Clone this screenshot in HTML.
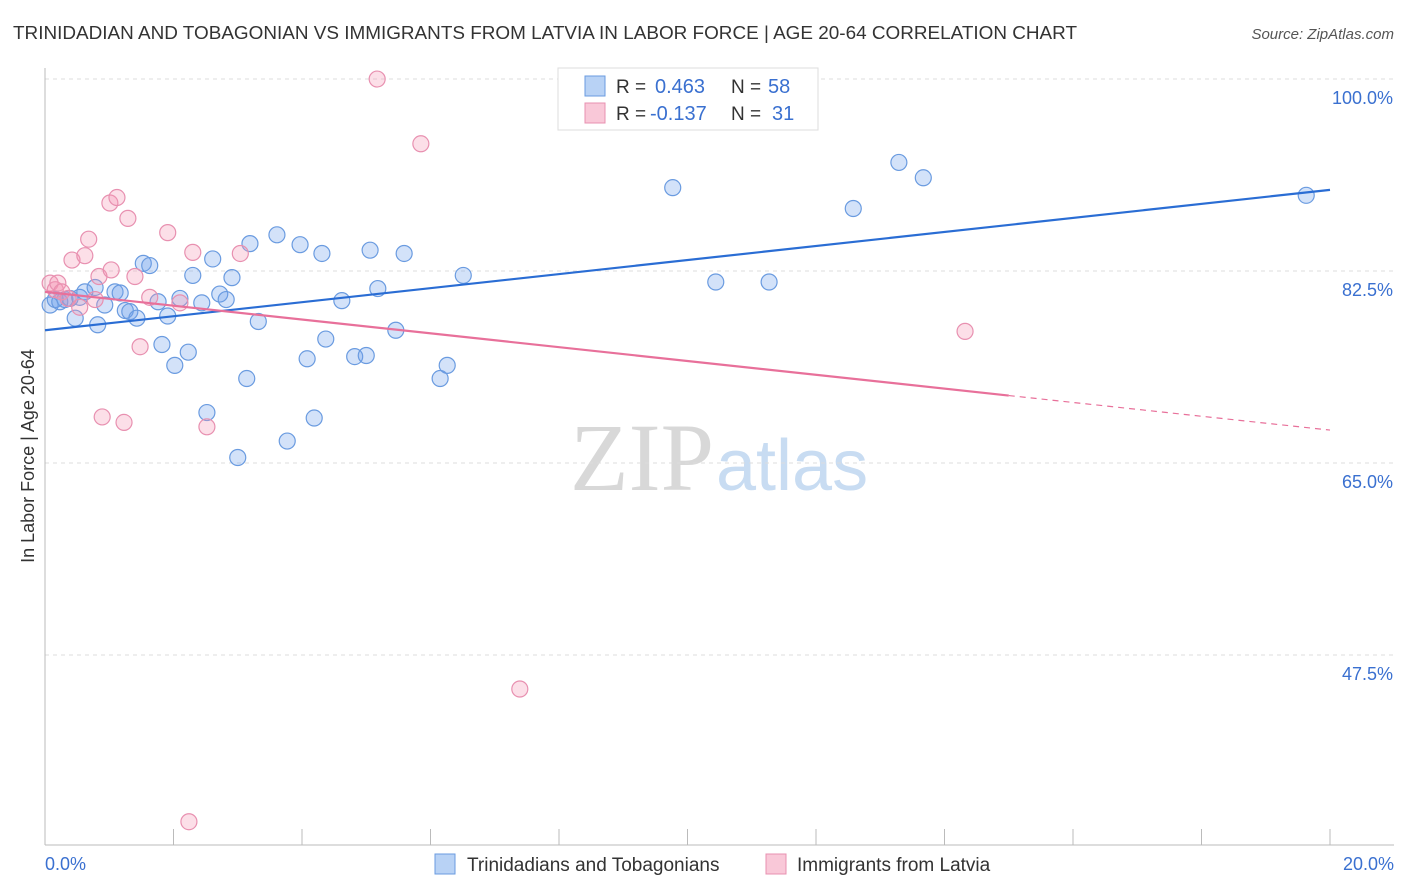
<!DOCTYPE html>
<html><head><meta charset="utf-8">
<style>
body{margin:0;background:#fff;font-family:"Liberation Sans",sans-serif;}
#wrap{position:relative;width:1406px;height:892px;overflow:hidden;}
</style></head>
<body>
<div id="wrap">
<svg id="svg" width="1406" height="892" xmlns="http://www.w3.org/2000/svg">
<text x="13" y="39" font-size="18" fill="#333" textLength="1064" lengthAdjust="spacingAndGlyphs">TRINIDADIAN AND TOBAGONIAN VS IMMIGRANTS FROM LATVIA IN LABOR FORCE | AGE 20-64 CORRELATION CHART</text>
<text x="1394" y="39" font-size="15" fill="#555" font-style="italic" text-anchor="end">Source: ZipAtlas.com</text>
<text x="714" y="490" font-size="96" fill="#d8d8d8" text-anchor="end" font-family="Liberation Serif, serif">ZIP</text>
<text x="716" y="490" font-size="72" fill="#c8dcf2">atlas</text>
<g id="grid"></g>
<g id="axes"></g>
<g id="pts"></g>
<g id="lines"></g>
<text x="34" y="456" font-size="18" fill="#333" text-anchor="middle" transform="rotate(-90 34 456)">In Labor Force | Age 20-64</text>
<text x="45" y="870" font-size="18" fill="#3a70d0">0.0%</text>
<text x="1394" y="870" font-size="18" fill="#3a70d0" text-anchor="end">20.0%</text>
<g>
<rect x="558" y="68" width="260" height="62" fill="#fff" stroke="#ddd"/>
<rect x="585" y="76" width="20" height="20" fill="#b8d2f5" stroke="#6a9be0"/>
<rect x="585" y="103" width="20" height="20" fill="#f9c8d8" stroke="#e890b0"/>
<text x="616" y="93" font-size="19" fill="#333">R =</text>
<text x="655" y="93" font-size="20" fill="#3a70d0">0.463</text>
<text x="731" y="93" font-size="19" fill="#333">N =</text>
<text x="768" y="93" font-size="20" fill="#3a70d0">58</text>
<text x="616" y="120" font-size="19" fill="#333">R =</text>
<text x="650" y="120" font-size="20" fill="#3a70d0">-0.137</text>
<text x="731" y="120" font-size="19" fill="#333">N =</text>
<text x="772" y="120" font-size="20" fill="#3a70d0">31</text>
</g>
<g>
<rect x="435" y="854" width="20" height="20" fill="#b8d2f5" stroke="#6a9be0"/>
<text x="467" y="871" font-size="19" fill="#333">Trinidadians and Tobagonians</text>
<rect x="766" y="854" width="20" height="20" fill="#f9c8d8" stroke="#e890b0"/>
<text x="797" y="871" font-size="19" fill="#333">Immigrants from Latvia</text>
</g>
</svg>
</div>
<script>
const yTicks=[100,82.5,65,47.5];
const yTickLabels=["100.0%","82.5%","65.0%","47.5%"];
const xTicks=[0,2,4,6,8,10,12,14,16,18,20];
const blueX=[0.08,0.16,0.23,0.31,0.39,0.47,0.54,0.62,0.78,0.82,0.93,1.09,1.17,1.25,1.32,1.43,1.53,1.63,1.76,1.82,1.91,2.02,2.10,2.23,2.30,2.44,2.52,2.61,2.72,2.82,2.91,3.00,3.14,3.19,3.32,3.61,3.77,3.97,4.08,4.19,4.31,4.37,4.62,4.82,5.00,5.06,5.18,5.46,5.59,6.15,6.26,6.51,9.77,10.44,11.27,12.58,13.29,13.67,19.63];
const blueY=[79.4,79.9,79.7,79.9,80.0,78.2,80.1,80.6,81.0,77.6,79.4,80.6,80.5,78.9,78.8,78.2,83.2,83.0,79.7,75.8,78.4,73.9,80.0,75.1,82.1,79.6,69.6,83.6,80.4,79.9,81.9,65.5,72.7,85.0,77.9,85.8,67.0,84.9,74.5,69.1,84.1,76.3,79.8,74.7,74.8,84.4,80.9,77.1,84.1,72.7,73.9,82.1,90.1,81.5,81.5,88.2,92.4,91.0,89.4];
const pinkX=[0.08,0.16,0.20,0.26,0.36,0.42,0.54,0.62,0.68,0.78,0.84,0.89,1.01,1.03,1.12,1.23,1.29,1.40,1.48,1.63,1.91,2.10,2.24,2.30,2.52,3.04,5.17,5.85,7.39,14.32];
const pinkY=[81.4,80.8,81.4,80.6,80.0,83.5,79.2,83.9,85.4,79.9,82.0,69.2,88.7,82.6,89.2,68.7,87.3,82.0,75.6,80.1,86.0,79.6,32.3,84.2,68.3,84.1,100.0,94.1,44.4,77.0];
const blueTrend=[77.1,89.9];
const pinkTrend=[80.6,68.0];
const pinkSolidEnd=15;
const X=v=>45+v*64.25, Y=v=>463-(v-65)*10.97;
const NS="http://www.w3.org/2000/svg";
function mk(tag,attrs,parent){const e=document.createElementNS(NS,tag);for(const k in attrs)e.setAttribute(k,attrs[k]);document.getElementById(parent).appendChild(e);return e;}
yTicks.forEach((t,i)=>{
 const l=mk('line',{x1:45,x2:1394,y1:Y(t),y2:Y(t),stroke:'#ddd','stroke-dasharray':'4,4'},'grid');
 
 
 const tx=mk('text',{x:1393,y:Y(t)+25,'font-size':18,fill:'#3a70d0','text-anchor':'end'},'grid');
 tx.textContent=yTickLabels[i];
 
 
});
const ax=mk('line',{x1:45,x2:45,y1:68,y2:845,stroke:'#bbb'},'axes');


const bx=mk('line',{x1:45,x2:1394,y1:845,y2:845,stroke:'#bbb'},'axes');


xTicks.forEach(t=>{
 const l=mk('line',{x1:X(t),x2:X(t),y1:829,y2:845,stroke:'#bbb'},'axes');
 
 
});
blueX.forEach((x,i)=>{
 const c=mk('circle',{cx:X(x),cy:Y(blueY[i]),r:8,fill:'rgba(110,160,235,0.3)',stroke:'#6a9be0','stroke-width':1.2},'pts');
 
 
});
pinkX.forEach((x,i)=>{
 const c=mk('circle',{cx:X(x),cy:Y(pinkY[i]),r:8,fill:'rgba(245,150,180,0.3)',stroke:'#e890b0','stroke-width':1.2},'pts');
 
 
});
const b=mk('line',{x1:X(0),y1:Y(blueTrend[0]),x2:X(20),y2:Y(blueTrend[1]),stroke:'#2a6dd4','stroke-width':2.2},'lines');


const pm=pinkTrend[0]+(pinkTrend[1]-pinkTrend[0])*pinkSolidEnd/20;
const p1=mk('line',{x1:X(0),y1:Y(pinkTrend[0]),x2:X(pinkSolidEnd),y2:Y(pm),stroke:'#e8709a','stroke-width':2.2},'lines');


const p2=mk('line',{x1:X(pinkSolidEnd),y1:Y(pm),x2:X(20),y2:Y(pinkTrend[1]),stroke:'#e8709a','stroke-width':1.2,'stroke-dasharray':'6,5'},'lines');


</script>
</body></html>
